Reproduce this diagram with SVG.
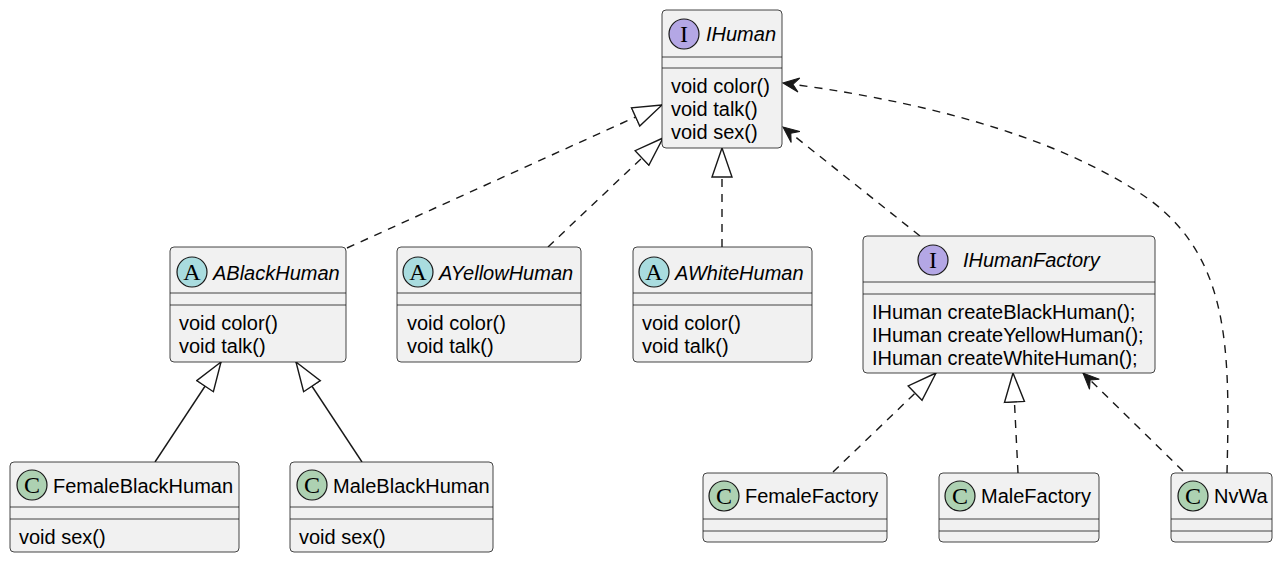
<svg xmlns="http://www.w3.org/2000/svg" width="1280" height="562" viewBox="0 0 1280 562">
<style>
.bg{fill:#FFFFFF}
.box{fill:#F1F1F1;stroke:#181818;stroke-width:0.8}
.sep{stroke:#181818;stroke-width:0.8}
.t{font-family:"Liberation Sans",Arial,sans-serif;font-size:20px;fill:#000000}
.it{font-style:italic}
.circ{stroke:#181818;stroke-width:1.2}
.ci{fill:#B4A7E5}
.ca{fill:#A9DCDF}
.cc{fill:#ADD1B2}
.lt{font-family:"Liberation Serif","Times New Roman",serif;font-size:24px;text-anchor:middle;fill:#000000}
.edge{fill:none;stroke:#181818;stroke-width:1.4}
.dash{stroke-dasharray:8,7}
</style>
<defs>
<marker id="tri" markerUnits="userSpaceOnUse" markerWidth="32" markerHeight="24" refX="30" refY="11" orient="auto">
<path d="M30,11 L1,1 L1,21 Z" fill="#FFFFFF" stroke="#181818" stroke-width="1.4" stroke-dasharray="none"/>
</marker>
<marker id="open" markerUnits="userSpaceOnUse" markerWidth="22" markerHeight="20" refX="20" refY="10" orient="auto">
<path d="M20,10 L4,3 L10,10 L4,17 Z" fill="#181818" stroke="#181818" stroke-width="1" stroke-dasharray="none"/>
</marker>
</defs>
<rect class="bg" x="0" y="0" width="1280" height="562"/>

<g id="connectors">
<path class="edge dash" d="M347,248 L662,105" marker-end="url(#tri)"/>
<path class="edge dash" d="M548,247 L663,138" marker-end="url(#tri)"/>
<path class="edge dash" d="M722,247 L722,148" marker-end="url(#tri)"/>
<path class="edge dash" d="M920,236 L783,127" marker-end="url(#open)"/>
<path class="edge dash" d="M1227,473 C1230,350 1230,260 1150,200 C1050,130 900,98 783,83" marker-end="url(#open)"/>
<path class="edge" d="M155,462 L221,362" marker-end="url(#tri)"/>
<path class="edge" d="M362,462 L296,362" marker-end="url(#tri)"/>
<path class="edge dash" d="M833,472 L936,373" marker-end="url(#tri)"/>
<path class="edge dash" d="M1018,473 L1013,373" marker-end="url(#tri)"/>
<path class="edge dash" d="M1183,471 L1083,373" marker-end="url(#open)"/>
</g>

<g id="IHuman">
<rect class="box" x="662" y="10" width="120" height="138" rx="4"/>
<circle class="circ ci" cx="684" cy="34" r="15"/>
<text class="lt" x="684" y="42">I</text>
<text class="t it" x="706" y="41">IHuman</text>
<line class="sep" x1="662" y1="57" x2="782" y2="57"/>
<line class="sep" x1="662" y1="68" x2="782" y2="68"/>
<text class="t" x="671" y="93">void color()</text>
<text class="t" x="671" y="116">void talk()</text>
<text class="t" x="671" y="139">void sex()</text>
</g>

<g id="ABlackHuman">
<rect class="box" x="170" y="247" width="176" height="115" rx="4"/>
<circle class="circ ca" cx="192" cy="272" r="15"/>
<text class="lt" x="192" y="280">A</text>
<text class="t it" x="213" y="280">ABlackHuman</text>
<line class="sep" x1="170" y1="293" x2="346" y2="293"/>
<line class="sep" x1="170" y1="305" x2="346" y2="305"/>
<text class="t" x="179" y="330">void color()</text>
<text class="t" x="179" y="353">void talk()</text>
</g>

<g id="AYellowHuman">
<rect class="box" x="397" y="247" width="184" height="115" rx="4"/>
<circle class="circ ca" cx="418" cy="272" r="15"/>
<text class="lt" x="418" y="280">A</text>
<text class="t it" x="439" y="280">AYellowHuman</text>
<line class="sep" x1="397" y1="293" x2="581" y2="293"/>
<line class="sep" x1="397" y1="305" x2="581" y2="305"/>
<text class="t" x="407" y="330">void color()</text>
<text class="t" x="407" y="353">void talk()</text>
</g>

<g id="AWhiteHuman">
<rect class="box" x="633" y="247" width="179" height="115" rx="4"/>
<circle class="circ ca" cx="654" cy="272" r="15"/>
<text class="lt" x="654" y="280">A</text>
<text class="t it" x="675" y="280">AWhiteHuman</text>
<line class="sep" x1="633" y1="293" x2="812" y2="293"/>
<line class="sep" x1="633" y1="305" x2="812" y2="305"/>
<text class="t" x="642" y="330">void color()</text>
<text class="t" x="642" y="353">void talk()</text>
</g>

<g id="IHumanFactory">
<rect class="box" x="863" y="236" width="292" height="137" rx="4"/>
<circle class="circ ci" cx="933" cy="260" r="15"/>
<text class="lt" x="933" y="268">I</text>
<text class="t it" x="963" y="267">IHumanFactory</text>
<line class="sep" x1="863" y1="282" x2="1155" y2="282"/>
<line class="sep" x1="863" y1="294" x2="1155" y2="294"/>
<text class="t" x="872" y="319">IHuman createBlackHuman();</text>
<text class="t" x="872" y="342">IHuman createYellowHuman();</text>
<text class="t" x="872" y="365">IHuman createWhiteHuman();</text>
</g>

<g id="FemaleBlackHuman">
<rect class="box" x="10" y="462" width="229" height="90" rx="4"/>
<circle class="circ cc" cx="32" cy="485" r="15"/>
<text class="lt" x="32" y="493">C</text>
<text class="t" x="53" y="493">FemaleBlackHuman</text>
<line class="sep" x1="10" y1="507" x2="239" y2="507"/>
<line class="sep" x1="10" y1="519" x2="239" y2="519"/>
<text class="t" x="19" y="544">void sex()</text>
</g>

<g id="MaleBlackHuman">
<rect class="box" x="290" y="462" width="203" height="90" rx="4"/>
<circle class="circ cc" cx="312" cy="485" r="15"/>
<text class="lt" x="312" y="493">C</text>
<text class="t" x="333" y="493">MaleBlackHuman</text>
<line class="sep" x1="290" y1="507" x2="493" y2="507"/>
<line class="sep" x1="290" y1="519" x2="493" y2="519"/>
<text class="t" x="299" y="544">void sex()</text>
</g>

<g id="FemaleFactory">
<rect class="box" x="703" y="473" width="184" height="69" rx="4"/>
<circle class="circ cc" cx="724" cy="496" r="15"/>
<text class="lt" x="724" y="504">C</text>
<text class="t" x="745" y="503">FemaleFactory</text>
<line class="sep" x1="703" y1="519" x2="887" y2="519"/>
<line class="sep" x1="703" y1="531" x2="887" y2="531"/>
</g>

<g id="MaleFactory">
<rect class="box" x="939" y="473" width="160" height="69" rx="4"/>
<circle class="circ cc" cx="960" cy="496" r="15"/>
<text class="lt" x="960" y="504">C</text>
<text class="t" x="981" y="503">MaleFactory</text>
<line class="sep" x1="939" y1="519" x2="1099" y2="519"/>
<line class="sep" x1="939" y1="531" x2="1099" y2="531"/>
</g>

<g id="NvWa">
<rect class="box" x="1171" y="473" width="101" height="69" rx="4"/>
<circle class="circ cc" cx="1193" cy="496" r="15"/>
<text class="lt" x="1193" y="504">C</text>
<text class="t" x="1214" y="503">NvWa</text>
<line class="sep" x1="1171" y1="519" x2="1272" y2="519"/>
<line class="sep" x1="1171" y1="531" x2="1272" y2="531"/>
</g>
</svg>
